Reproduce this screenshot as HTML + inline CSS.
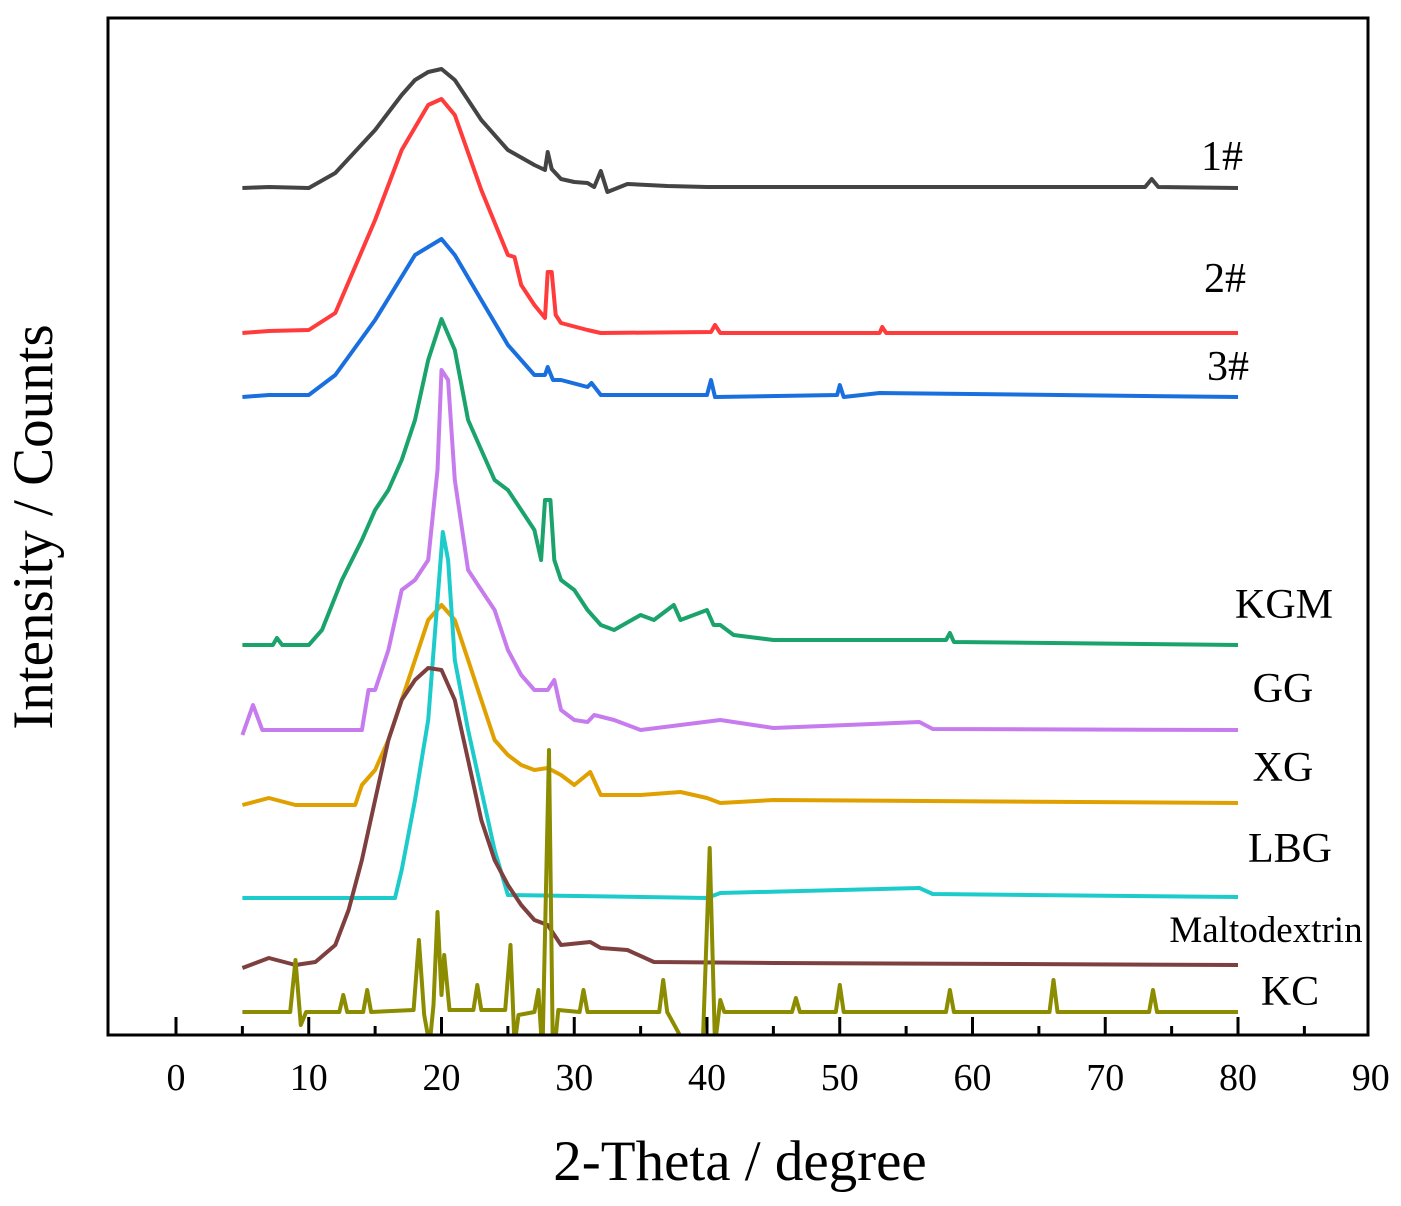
<!DOCTYPE html>
<html><head><meta charset="utf-8"><style>
body{margin:0;background:#fff}
svg text{font-family:"Liberation Serif",serif;fill:#000}
</style></head><body>
<svg id="chart" width="1401" height="1201" viewBox="0 0 1401 1201" xmlns="http://www.w3.org/2000/svg">
<defs><clipPath id="clip"><rect x="108" y="18" width="1260" height="1017"/></clipPath></defs>
<g id="series" clip-path="url(#clip)"></g>
<rect x="108" y="18" width="1260" height="1017" fill="none" stroke="#000" stroke-width="3"/>
<g id="ticks"></g>
<text x="740" y="1180" font-size="57" text-anchor="middle">2-Theta / degree</text>
<text transform="translate(52,527) rotate(-90)" font-size="57" text-anchor="middle">Intensity / Counts</text>
<g id="labels"></g>
</svg>
<script>
const xTicks=[0,10,20,30,40,50,60,70,80,90];
const minorTicks=[5,15,25,35,45,55,65,75,85];
const seriesNames=["1#","2#","3#","KGM","GG","XG","LBG","Maltodextrin","KC"];
const seriesColors=["#444444","#ff3b3b","#1a6fdf","#1aa36b","#c77cee","#e0a000","#1ecbcb","#7e3f3f","#8c8c00"];
const s1=[[5,847],[7,848],[10,847],[12,862],[15,905],[17,940],[18,955],[19,963],[20,966],[21,955],[22,935],[23,915],[25,885],[27,870],[27.8,865],[28,883],[28.3,866],[29,856],[30,853],[31,852],[31.5,848],[32,864],[32.5,843],[34,851],[37,849],[40,848],[55,848],[65,848],[73,848],[73.5,856],[74,848],[80,847]];
const s2=[[5,702],[7,704],[10,705],[12,722],[15,815],[17,885],[19,930],[20,936],[21,920],[23,845],[25,780],[25.5,778],[26,750],[27,730],[27.8,717],[28,763],[28.3,763],[28.6,720],[29,712],[31,705],[32,702],[40.3,703],[40.6,710],[41,702],[53,702],[53.2,708],[53.5,702],[80,702]];
const s3=[[5,638],[7,640],[10,640],[12,660],[15,715],[18,780],[20,796],[21,780],[23,735],[25,690],[27,660],[27.8,660],[28,668],[28.4,655],[29,655],[31,648],[31.3,652],[32,640],[40,640],[40.3,655],[40.6,638],[49.8,640],[50,650],[50.3,638],[53,642],[80,638]];
const kgm=[[5,390],[7.3,390],[7.6,397],[8,390],[10,390],[11,405],[12.5,455],[14,495],[15,525],[16,545],[17,575],[18,615],[19,675],[20,716],[21,685],[22,615],[23,585],[24,555],[25,545],[26,525],[27,505],[27.5,475],[27.8,535],[28.2,535],[28.5,475],[29,455],[30,445],[31,425],[32,410],[33,405],[35,420],[36,415],[37.5,430],[38,415],[40,425],[40.5,410],[41,410],[42,400],[45,395],[58,395],[58.3,402],[58.6,393],[80,390]];
const gg=[[5,300],[5.8,330],[6.5,305],[7,305],[14,305],[14.5,345],[15,345],[16,385],[17,445],[18,455],[19,475],[19.7,565],[20,665],[20.5,655],[21,555],[22,465],[23,445],[24,425],[25,385],[26,360],[27,345],[28,345],[28.5,355],[29,325],[30,315],[31,313],[31.5,320],[33,315],[35,305],[41,315],[45,307],[56,313],[57,306],[80,305]];
const xg=[[5,230],[7,237],[9,230],[13.5,230],[14,250],[15,265],[16,295],[17,335],[18,375],[19,415],[20,430],[21,415],[22,375],[23,335],[24,295],[25,280],[26,270],[27,265],[28,267],[29,260],[30,250],[31.2,263],[32,240],[35,240],[38,243],[40,237],[41,232],[45,235],[80,232]];
const lbg=[[5,137],[16.5,137],[17,165],[18,235],[19,315],[19.7,435],[20.1,503],[20.5,475],[21,375],[22,305],[23,245],[24,185],[25,140],[40,137],[41,142],[56,147],[57,141],[80,138]];
const malto=[[5,67],[7,77],[9,70],[10.5,73],[12,90],[13,125],[14,175],[15,235],[16,295],[17,335],[18,355],[19,367],[20,365],[21,335],[22,275],[23,215],[24,175],[25,150],[26,130],[27,115],[28,110],[29,90],[31.2,93],[32,87],[34,85],[36,73],[45,72],[80,70]];
const kc=[[5,23],[8.6,23],[9,75],[9.4,10],[9.8,23],[12.3,23],[12.6,40],[12.9,23],[14.1,23],[14.4,45],[14.7,23],[17.9,25],[18.3,95],[18.7,20],[19.1,-10],[19.4,30],[19.7,123],[20,40],[20.2,80],[20.6,25],[22.4,25],[22.7,50],[23,25],[24.8,25],[25.2,90],[25.5,-10],[25.8,20],[27,23],[27.3,45],[27.6,-20],[28.1,285],[28.4,-30],[28.8,25],[30.4,23],[30.7,45],[31,23],[36.4,23],[36.7,55],[37,23],[39.6,-40],[40.2,187],[40.6,-10],[41,35],[41.3,23],[46.4,23],[46.7,37],[47,23],[49.7,23],[50,50],[50.3,23],[58,23],[58.3,45],[58.6,23],[65.8,23],[66.1,55],[66.4,23],[73.3,23],[73.6,45],[73.9,23],[80,23]];
const allSeries=[s1,s2,s3,kgm,gg,xg,lbg,malto,kc];
const labelPos=[[1222,170,42],[1225,292,42],[1228,380,42],[1284,618,42],[1283,702,42],[1283,781,42],[1290,862,42],[1266,942,37],[1290,1005,42]];
const NS="http://www.w3.org/2000/svg";
const xs=v=>176+v*13.275;
const ys=v=>1035-v;
const g=document.getElementById('series');
allSeries.forEach((s,i)=>{
  const p=document.createElementNS(NS,'path');
  p.setAttribute('d',s.map((d,j)=>(j?'L':'M')+xs(d[0]).toFixed(1)+','+ys(d[1]).toFixed(1)).join(''));
  p.setAttribute('fill','none');p.setAttribute('stroke',seriesColors[i]);
  p.setAttribute('stroke-width','4');p.setAttribute('stroke-linejoin','round');
  
  
  g.appendChild(p);
});
const t=document.getElementById('ticks');
xTicks.forEach(v=>{
  if(v<90){
  const l=document.createElementNS(NS,'line');
  l.setAttribute('x1',xs(v));l.setAttribute('x2',xs(v));l.setAttribute('y1',1017);l.setAttribute('y2',1035);
  l.setAttribute('stroke','#000');l.setAttribute('stroke-width','3');
  
  
  t.appendChild(l);
  }
  const tx=document.createElementNS(NS,'text');
  tx.setAttribute('x',xs(v));tx.setAttribute('y',1090);tx.setAttribute('font-size','38');tx.setAttribute('text-anchor','middle');
  tx.textContent=v;
  
  
  t.appendChild(tx);
});
minorTicks.forEach(v=>{
  const l=document.createElementNS(NS,'line');
  l.setAttribute('x1',xs(v));l.setAttribute('x2',xs(v));l.setAttribute('y1',1026);l.setAttribute('y2',1035);
  l.setAttribute('stroke','#000');l.setAttribute('stroke-width','3');
  
  
  t.appendChild(l);
});
const lg=document.getElementById('labels');
seriesNames.forEach((n,i)=>{
  const tx=document.createElementNS(NS,'text');
  tx.setAttribute('x',labelPos[i][0]);tx.setAttribute('y',labelPos[i][1]);tx.setAttribute('font-size',labelPos[i][2]);tx.setAttribute('text-anchor','middle');
  tx.textContent=n;
  
  
  lg.appendChild(tx);
});
</script>
</body></html>
